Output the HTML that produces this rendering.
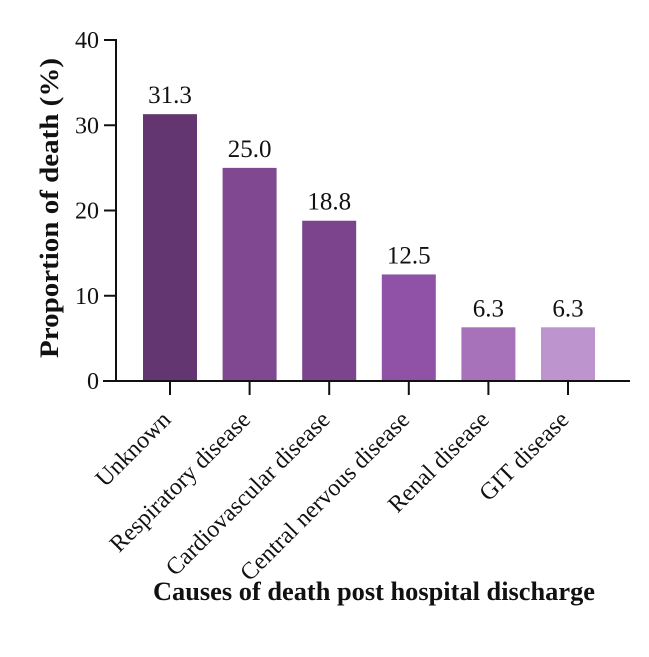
<!DOCTYPE html>
<html><head><meta charset="utf-8"><style>
body{margin:0;background:#fff}
svg text{font-family:"Liberation Serif",serif;fill:#111}
</style></head><body>
<svg width="649" height="652">
<g id="g"></g>
</svg>
<script>
const categories=["Unknown","Respiratory disease","Cardiovascular disease","Central nervous disease","Renal disease","GIT disease"];
const values=[31.3,25.0,18.8,12.5,6.3,6.3];
const labels=["31.3","25.0","18.8","12.5","6.3","6.3"];
const colors=["#633671","#814892","#7b448d","#8f52a6","#a872bb","#be94cf"];
const yTicks=[0,10,20,30,40];
const g=document.getElementById('g');
const NS='http://www.w3.org/2000/svg';
const y0=381,y1=40,ymax=40;
const ys=v=>y0-(y0-y1)*v/ymax;
const xc=i=>170+i*79.6;
const bw=54;
function mk(t,a,p){const e=document.createElementNS(NS,t);for(const k in a)e.setAttribute(k,a[k]);(p||g).appendChild(e);return e;}
values.forEach((v,i)=>{
 const r=mk('rect',{x:xc(i)-bw/2,y:ys(v),width:bw,height:y0-ys(v),fill:colors[i]});
 
 
 const t=mk('text',{x:xc(i),y:ys(v)-11,'text-anchor':'middle','font-size':25});
 t.textContent=labels[i];
 
 
 const tk=mk('line',{x1:xc(i),x2:xc(i),y1:y0,y2:y0+14,stroke:'#111','stroke-width':2});
 
 
 const c=mk('text',{transform:`translate(${xc(i)+2},${y0+40}) rotate(-45)`,'text-anchor':'end','font-size':24});
 c.textContent=categories[i];
 
 
});
yTicks.forEach(v=>{
 const l=mk('line',{x1:104,x2:117,y1:ys(v),y2:ys(v),stroke:'#111','stroke-width':2});
 
 
 const t=mk('text',{x:99,y:ys(v)+8,'text-anchor':'end','font-size':24});
 t.textContent=v;
 
 
});
const ya=mk('line',{x1:116,x2:116,y1:ys(40)-1,y2:y0+1,stroke:'#111','stroke-width':2});


const xa=mk('line',{x1:103,x2:630,y1:y0,y2:y0,stroke:'#111','stroke-width':2});


const yt=mk('text',{transform:'translate(58,208) rotate(-90)','text-anchor':'middle','font-size':26,'font-weight':'bold',textLength:300,lengthAdjust:'spacingAndGlyphs'});
yt.textContent='Proportion of death (%)';


const xt=mk('text',{x:374,y:600,'text-anchor':'middle','font-size':26,'font-weight':'bold',textLength:442,lengthAdjust:'spacingAndGlyphs'});
xt.textContent='Causes of death post hospital discharge';


</script>
</body></html>
